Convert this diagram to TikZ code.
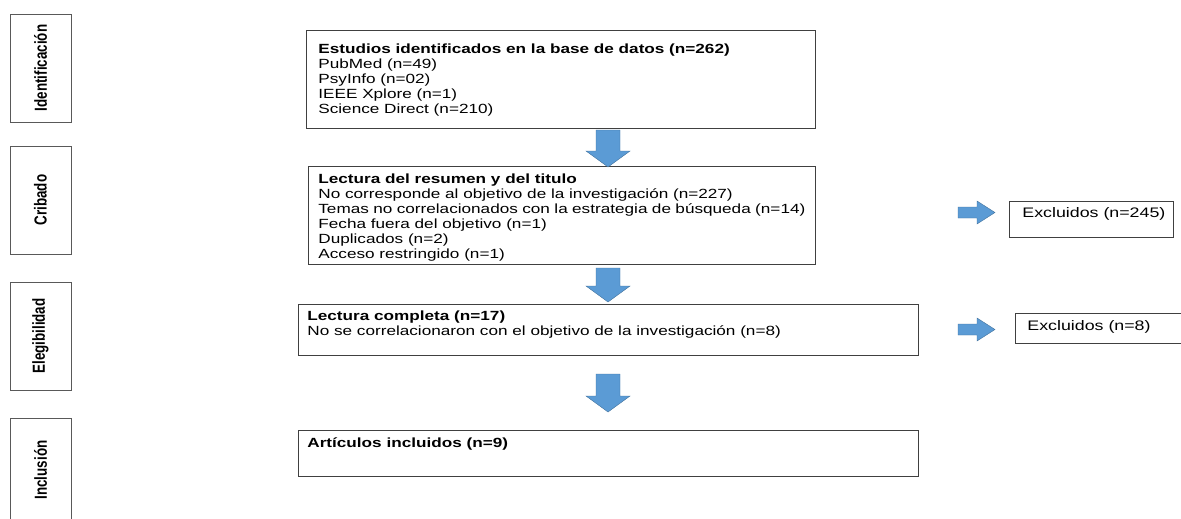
\documentclass[tikz,border=0pt]{standalone}
\usepackage{fontspec}
\setmainfont{Liberation Sans}
\newfontfamily\boxfont{Liberation Sans}[FakeStretch=1.29]
\newfontfamily\sidefont{Liberation Sans}
\usepackage{tikz}
\definecolor{arrowblue}{RGB}{91,155,213}
\definecolor{arrowedge}{RGB}{65,113,156}

\begin{document}
\begin{tikzpicture}[x=1pt, y=-1pt,
  mainbox/.style={draw=black!75, line width=0.8pt, anchor=north west, inner xsep=#1, inner ysep=0pt,
    font=\boxfont\fontsize{13.3}{15}\selectfont},
  mainbox/.default=10pt,
  sidebox/.style={draw=black!65, line width=0.8pt, rotate=90, inner sep=0pt,
    minimum width=108pt, minimum height=61pt, font=\sidefont\bfseries\fontsize{13.4}{15}\selectfont},
  blockarrow/.style={fill=arrowblue, draw=arrowedge, line width=0.4pt},
  pics/downarrow/.style={code={
    \draw[blockarrow] (-12,0) -- (12,0) -- (12,#1-16) -- (22,#1-16) -- (0,#1)
      -- (-22,#1-16) -- (-12,#1-16) -- cycle;}},
  pics/rightarrow/.style={code={
    \draw[blockarrow] (0,-5.5) -- (#1-18,-5.5) -- (#1-18,-11.5) -- (#1,0)
      -- (#1-18,11.5) -- (#1-18,5.5) -- (0,5.5) -- cycle;}}]

  \useasboundingbox (0,0) rectangle (1181,519);

  % Stage labels on the left
  \node[sidebox] (identificacion) at (40.5,68) {\scalebox{1}[1.3]{Identificación}};
  \node[sidebox] (cribado) at (40.5,200) {\scalebox{1}[1.3]{Cribado}};
  \node[sidebox] (elegibilidad) at (40.5,336) {\scalebox{1}[1.3]{Elegibilidad}};
  \node[sidebox, minimum width=104pt] (inclusion) at (40.5,470) {\scalebox{1}[1.3]{Inclusión}};

  % Main boxes
  \node[mainbox=12pt] (estudios) at (306,30) {\parbox[c][98pt][t]{485pt}{\rule{0pt}{23pt}%
    \textbf{Estudios identificados en la base de datos (n=262)}\\
    PubMed (n=49)\\
    PsyInfo (n=02)\\
    IEEE Xplore (n=1)\\
    Science Direct (n=210)}};

  \node[mainbox] (resumen) at (308,166) {\parbox[c][98pt][t]{487pt}{\rule{0pt}{17pt}%
    \textbf{Lectura del resumen y del titulo}\\
    No corresponde al objetivo de la investigación (n=227)\\
    Temas no correlacionados con la estrategia de búsqueda (n=14)\\
    Fecha fuera del objetivo (n=1)\\
    Duplicados (n=2)\\
    Acceso restringido (n=1)}};

  \node[mainbox=9pt] (completa) at (298,304) {\parbox[c][51pt][t]{602pt}{\rule{0pt}{16pt}%
    \textbf{Lectura completa (n=17)}\\
    No se correlacionaron con el objetivo de la investigación (n=8)}};

  \node[mainbox=9pt] (incluidos) at (298,430) {\parbox[c][46pt][t]{602pt}{\rule{0pt}{17pt}%
    \textbf{Artículos incluidos (n=9)}}};

  % Excluded boxes
  \node[mainbox=13pt, font=\boxfont\fontsize{13.8}{15}\selectfont] (excluidosA) at (1009,201)
    {\parbox[c][36pt][t]{138pt}{\rule{0pt}{16pt}\makebox[138pt][l]{Excluidos (n=245)}}};
  \node[mainbox=12pt, font=\boxfont\fontsize{13.8}{15}\selectfont] (excluidosB) at (1015,313)
    {\parbox[c][30pt][t]{142pt}{\rule{0pt}{17pt}\makebox[142pt][l]{Excluidos (n=8)}}};

  % Block arrows
  \pic at (608,130) {downarrow=37};
  \pic at (608,268) {downarrow=34};
  \pic at (608,374) {downarrow=38};
  \pic at (958,212.5) {rightarrow=37};
  \pic at (958,329.5) {rightarrow=37};

\end{tikzpicture}
\end{document}
